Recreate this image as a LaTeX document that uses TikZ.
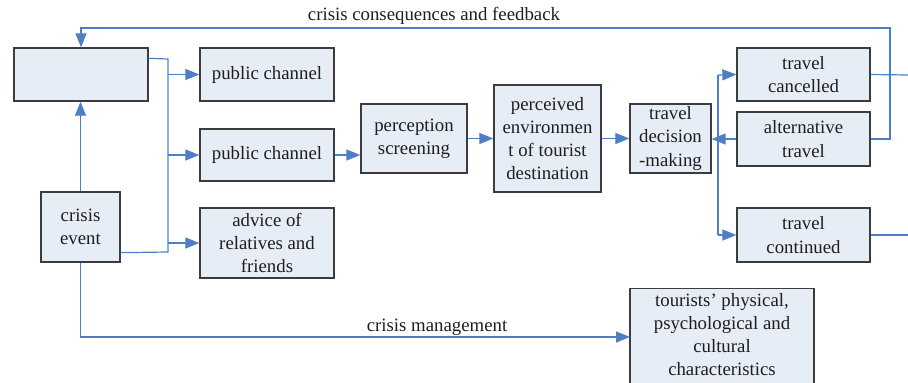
\documentclass[tikz,border=0pt]{standalone}
\usepackage{fontspec}
\setmainfont{Liberation Serif}
\usetikzlibrary{arrows.meta,calc}
\definecolor{boxfill}{HTML}{E7EDF7}
\definecolor{boxline}{HTML}{3C3C3C}
\definecolor{conn}{HTML}{4E7FC6}
\definecolor{txtc}{HTML}{1E1E1E}
\begin{document}
\begin{tikzpicture}[x=1pt,y=-1pt,
  box/.style={draw=boxline,line width=1.3pt,fill=boxfill,inner sep=0pt,align=center,text=txtc,
    font=\fontsize{18.8}{23.2}\selectfont},
  lbl/.style={text=txtc,inner sep=0pt,font=\fontsize{18.8}{23.2}\selectfont},
  cn/.style={draw=conn,line width=1.2pt},
  arr/.style={cn,-{Triangle[length=14pt,width=11pt]}}]
\useasboundingbox (0,0) rectangle (908,383);
\clip (0,0) rectangle (908,383);
% boxes
\node[box,minimum width=134,minimum height=53] (E) at (81,74.5) {};
\node[box,minimum width=134,minimum height=53] (P1) at (267,74.5) {public channel};
\node[box,minimum width=134,minimum height=52] (P2) at (267,155) {public channel};
\node[box,minimum width=134,minimum height=70] (A) at (267,243) {advice of\\relatives and\\friends};
\node[box,minimum width=79,minimum height=70] (C) at (80.5,227) {crisis\\event};
\node[box,minimum width=106,minimum height=69] (S) at (414,138.5) {perception\\screening};
\node[box,minimum width=107,minimum height=107] (V) at (547.5,138.5) {perceived\\environmen\\t of tourist\\destination};
\node[box,minimum width=81,minimum height=69] (D) at (670.5,138.5) {travel\\decision\\-making};
\node[box,minimum width=133,minimum height=53] (TC) at (803.5,74.5) {travel\\cancelled};
\node[box,minimum width=133,minimum height=54] (AT) at (803.5,139) {alternative\\travel};
\node[box,minimum width=133,minimum height=54] (CO) at (803.5,235) {travel\\continued};
\node[box,minimum width=184,minimum height=120,anchor=north] (T) at (722,288) {};
\node[lbl,align=center] (Tt) at (722,334.5) {tourists’ physical,\\psychological and\\cultural\\characteristics};
% coordinates
\coordinate (fbR) at (890,28);
\coordinate (busT) at (168,59);
\coordinate (busB) at (168,252);
\coordinate (dT) at (718,75);
\coordinate (dB) at (718,235);
\coordinate (outA) at (908,75);
\coordinate (outB) at (908,235);
\coordinate (mg) at (630,337);
% feedback loop
\draw[arr] (AT.east) -| (fbR) -| (E.north);
\node[lbl,anchor=base] (fbl) at (434,20) {crisis consequences and feedback};
% crisis event
\draw[arr] (C.north) -- (C.north |- E.south);
\draw[cn] ($(E.north east)+(0,11)$) -- (busT) -- (busB) -- ($(C.south east)+(0,-10)$);
\draw[arr] (P1.west -| busT) -- (P1.west);
\draw[arr] (P2.west -| busT) -- (P2.west);
\draw[arr] (A.west -| busT) -- (A.west);
\draw[arr] (C.south) |- (mg);
\node[lbl,anchor=base] (mgl) at (437,331) {crisis management};
% main chain
\draw[arr] (P2.east) -- (P2.east -| S.west);
\draw[arr] (S.east) -- (V.west);
\draw[arr] (V.east) -- (D.west);
\draw[arr] (AT.west) -- (AT.west -| D.east);
\draw[cn] (dT) -- (dB);
\draw[arr] (dT) -- (TC.west);
\draw[arr] (dB) -- (CO.west);
\draw[cn] (TC.east) -- (outA);
\draw[cn] (CO.east) -- (outB);
\end{tikzpicture}
\end{document}
